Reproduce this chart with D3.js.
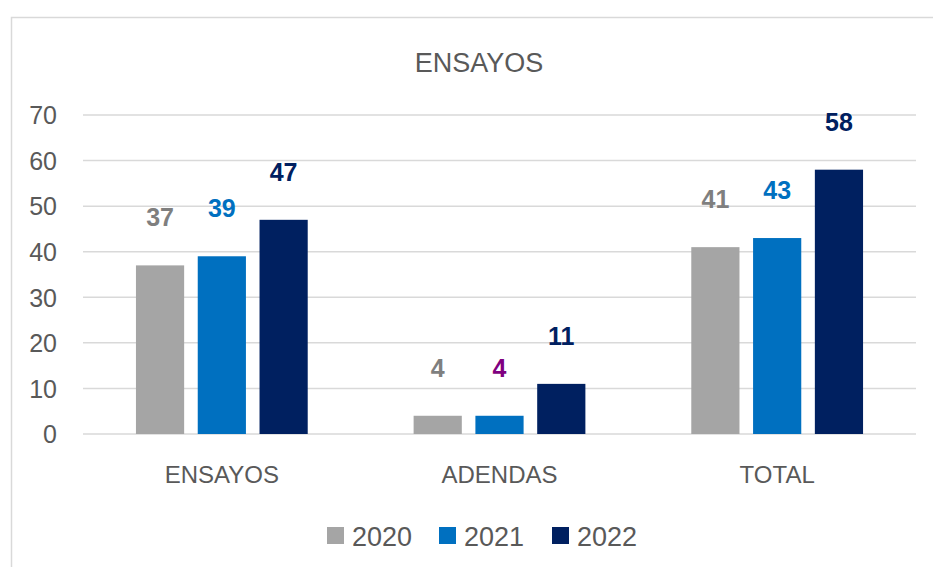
<!DOCTYPE html>
<html>
<head>
<meta charset="utf-8">
<script src="https://cdn.jsdelivr.net/npm/d3@7"></script>
<style>
  body { margin: 0; background: #fff; }
  svg { display: block; font-family: 'Liberation Sans', Arial, sans-serif; }
</style>
</head>
<body>
<div class="canvas"></div>
<script>
// data
const categories = ['ENSAYOS', 'ADENDAS', 'TOTAL'];
const years = ['2020', '2021', '2022'];
const values2020 = [37, 4, 41];
const values2021 = [39, 4, 43];
const values2022 = [47, 11, 58];
const yTicks = [0, 10, 20, 30, 40, 50, 60, 70];

const barColors = ['#a5a5a5', '#0070c0', '#002060'];
// label colours, one row per year (the 2021 ADENDAS label is purple in the original)
const labelColors = [
  ['#7f7f7f', '#7f7f7f', '#7f7f7f'],
  ['#0070c0', '#800080', '#0070c0'],
  ['#002060', '#002060', '#002060']
];

const series = [values2020, values2021, values2022];

const dims = { width: 933, height: 567 };
const plot = { left: 83, right: 916, top: 115, bottom: 434 };

const svg = d3.select('.canvas')
  .append('svg')
  .attr('width', dims.width)
  .attr('height', dims.height);

// chart border (runs off the right and bottom edge)
svg.append('rect')
  .attr('x', 11.5)
  .attr('y', 17.5)
  .attr('width', 1000)
  .attr('height', 1000)
  .attr('fill', '#fff')
  .attr('stroke', '#d9d9d9')
  .attr('stroke-width', 1.5);

// title
svg.append('text')
  .attr('x', 479)
  .attr('y', 72)
  .attr('text-anchor', 'middle')
  .attr('font-size', 27)
  .attr('fill', '#595959')
  .text('ENSAYOS');

// scales
const x0 = d3.scaleBand()
  .domain(categories)
  .range([plot.left, plot.right])
  .padding(0);

const x1 = d3.scaleBand()
  .domain(years)
  .range([0, x0.bandwidth()])
  .paddingInner(0.22)
  .paddingOuter(0.857);

const y = d3.scaleLinear()
  .domain([0, 70])
  .range([plot.bottom, plot.top]);

// gridlines
svg.append('g')
  .selectAll('line')
  .data(yTicks)
  .enter()
  .append('line')
    .attr('x1', plot.left)
    .attr('x2', plot.right)
    .attr('y1', d => y(d))
    .attr('y2', d => y(d))
    .attr('stroke', '#d9d9d9')
    .attr('stroke-width', 1.5);

// y axis
const yAxis = d3.axisLeft(y)
  .tickValues(yTicks)
  .tickSize(0)
  .tickPadding(0);

const yAxisGroup = svg.append('g')
  .attr('transform', `translate(57, 0)`)
  .call(yAxis);

yAxisGroup.select('.domain').remove();
yAxisGroup.selectAll('text')
  .attr('font-size', 25)
  .attr('font-family', "'Liberation Sans', Arial, sans-serif")
  .attr('fill', '#595959')
  .attr('dy', '0.35em');

// x axis
const xAxis = d3.axisBottom(x0)
  .tickSize(0)
  .tickPadding(0);

const xAxisGroup = svg.append('g')
  .attr('transform', `translate(0, ${plot.bottom})`)
  .call(xAxis);

xAxisGroup.select('.domain').remove();
xAxisGroup.selectAll('text')
  .attr('font-size', 24)
  .attr('font-family', "'Liberation Sans', Arial, sans-serif")
  .attr('fill', '#595959')
  .attr('y', 49)
  .attr('dy', 0);

// bars
const groups = svg.append('g')
  .selectAll('g')
  .data(categories)
  .enter()
  .append('g')
    .attr('transform', d => `translate(${x0(d)}, 0)`);

groups.selectAll('rect')
  .data((d, ci) => years.map((yr, si) => ({ yr, si, ci, value: series[si][ci] })))
  .enter()
  .append('rect')
    .attr('x', d => x1(d.yr))
    .attr('y', d => y(d.value))
    .attr('width', x1.bandwidth())
    .attr('height', d => y(0) - y(d.value))
    .attr('fill', d => barColors[d.si]);

// data labels
groups.selectAll('text')
  .data((d, ci) => years.map((yr, si) => ({ yr, si, ci, value: series[si][ci] })))
  .enter()
  .append('text')
    .attr('x', d => x1(d.yr) + x1.bandwidth() / 2)
    .attr('y', d => y(d.value) - 39)
    .attr('text-anchor', 'middle')
    .attr('font-size', 25)
    .attr('font-weight', 'bold')
    .attr('fill', d => labelColors[d.si][d.ci])
    .text(d => d.value);

// legend
const legendX = [327, 439, 552];
const legend = svg.append('g');

const items = legend.selectAll('g')
  .data(years)
  .enter()
  .append('g')
    .attr('transform', (d, i) => `translate(${legendX[i]}, 527)`);

items.append('rect')
  .attr('width', 17)
  .attr('height', 17)
  .attr('fill', (d, i) => barColors[i]);

items.append('text')
  .attr('x', 25)
  .attr('y', 19)
  .attr('font-size', 27)
  .attr('fill', '#595959')
  .text(d => d);
</script>
</body>
</html>
